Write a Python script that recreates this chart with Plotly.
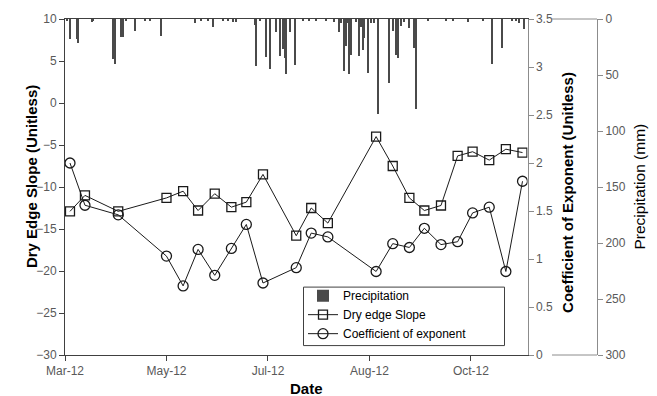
import plotly.graph_objects as go

# ---- data ----
obs_dates = ["2012-03-04", "2012-03-13", "2012-04-02", "2012-05-01", "2012-05-11", "2012-05-20",
             "2012-05-30", "2012-06-09", "2012-06-18", "2012-06-28", "2012-07-18", "2012-07-27",
             "2012-08-06", "2012-09-04", "2012-09-14", "2012-09-24", "2012-10-03", "2012-10-13",
             "2012-10-23", "2012-11-01", "2012-11-11", "2012-11-21", "2012-12-01"]
dry_edge_slope = [-12.9, -11.0, -12.9, -11.3, -10.5, -12.8, -10.8, -12.4, -11.8, -8.5, -15.8, -12.5,
                  -14.3, -4.0, -7.5, -11.3, -12.8, -12.2, -6.3, -5.8, -6.8, -5.5, -5.9]
coef_exponent = [2.0, 1.56, 1.46, 1.03, 0.72, 1.10, 0.83, 1.11, 1.36, 0.75, 0.91, 1.27,
                 1.23, 0.87, 1.16, 1.12, 1.32, 1.15, 1.18, 1.48, 1.54, 0.87, 1.81]

precip_dates = ["2012-03-02", "2012-03-04", "2012-03-08", "2012-03-09", "2012-03-17", "2012-03-18",
                "2012-03-30", "2012-03-31", "2012-04-04", "2012-04-05", "2012-04-07", "2012-04-12",
                "2012-04-18", "2012-04-21", "2012-04-28", "2012-05-18", "2012-05-22", "2012-05-26",
                "2012-05-29", "2012-06-04", "2012-06-07", "2012-06-10", "2012-06-12", "2012-06-23",
                "2012-06-24", "2012-06-26", "2012-06-30", "2012-07-02", "2012-07-06", "2012-07-08",
                "2012-07-10", "2012-07-11", "2012-07-12", "2012-07-14", "2012-07-17", "2012-07-22",
                "2012-07-26", "2012-07-30", "2012-08-05", "2012-08-10", "2012-08-13", "2012-08-14",
                "2012-08-16", "2012-08-17", "2012-08-18", "2012-08-19", "2012-08-20", "2012-08-23",
                "2012-08-25", "2012-08-26", "2012-08-27", "2012-08-28", "2012-08-30", "2012-09-01",
                "2012-09-03", "2012-09-05", "2012-09-12", "2012-09-14", "2012-09-16", "2012-09-17",
                "2012-09-19", "2012-09-21", "2012-09-24", "2012-09-27", "2012-09-28", "2012-10-05",
                "2012-10-16", "2012-10-20", "2012-10-29", "2012-11-07", "2012-11-13", "2012-11-19",
                "2012-11-25", "2012-11-27", "2012-11-29", "2012-12-02"]
precip_mm = [2, 18, 18, 21, 3, 2, 36, 40, 16, 16, 1, 11,
             1, 1, 15, 4, 1, 1, 7, 1, 1, 3, 3, 5,
             42, 1, 34, 45, 12, 33, 27, 35, 49, 12, 41, 1,
             1, 1, 2, 3, 12, 4, 46, 24, 4, 49, 32, 3,
             33, 7, 28, 17, 48, 4, 4, 85, 57, 11, 32, 35,
             6, 3, 8, 26, 80, 1, 1, 1, 3, 1, 40, 26,
             1, 1, 4, 9]

x_tick_vals = ["2012-03-01", "2012-05-01", "2012-07-01", "2012-08-31", "2012-10-31"]
x_tick_text = ["Mar-12", "May-12", "Jul-12", "Aug-12", "Oct-12"]

# ---- style ----
FONT = "Liberation Sans, Arial, sans-serif"
TICKCOL = "#595959"
GREY = "#8c8c8c"
L, R, T, B = 65, 60, 16, 41
W, H = 657, 396
PW, PH = W - L - R, H - T - B


def px_x(px):
    return (px - L) / PW


def px_y(py):
    return (H - B - py) / PH


fig = go.Figure()

fig.add_trace(go.Bar(
    x=precip_dates, y=precip_mm, yaxis="y3", name="Precipitation",
    marker=dict(color="#4a4a4a", line=dict(width=0)), width=86400000 * 0.7,
))
fig.add_trace(go.Scatter(
    x=obs_dates, y=dry_edge_slope, yaxis="y", name="Dry edge Slope", mode="lines+markers",
    line=dict(color="#1a1a1a", width=1),
    marker=dict(symbol="square-open", size=9, color="#1a1a1a", line=dict(width=1.3)),
))
fig.add_trace(go.Scatter(
    x=obs_dates, y=coef_exponent, yaxis="y2", name="Coefficient of exponent", mode="lines+markers",
    line=dict(color="#1a1a1a", width=1),
    marker=dict(symbol="circle-open", size=10, color="#1a1a1a", line=dict(width=1.3)),
))

fig.update_layout(
    width=W, height=H,
    margin=dict(l=L, r=R, t=T, b=B, pad=0),
    paper_bgcolor="white", plot_bgcolor="white",
    font=dict(family=FONT, size=12, color=TICKCOL),
    bargap=0,
    xaxis=dict(
        domain=[0, px_x(527.5)], type="date", range=["2012-03-01", "2012-12-04"],
        tickmode="array", tickvals=x_tick_vals, ticktext=x_tick_text,
        showgrid=False, zeroline=False, showline=True, linecolor="#404040", linewidth=1,
        mirror=True, ticks="outside", ticklen=5, tickcolor="#404040",
        tickfont=dict(size=12, color=TICKCOL),
    ),
    yaxis=dict(
        range=[-30, 10], dtick=5, tick0=-30, showgrid=False, zeroline=False,
        showline=True, linecolor="#404040", linewidth=1, ticks="outside", ticklen=5,
        tickcolor="#404040", tickfont=dict(size=12, color=TICKCOL),
    ),
    yaxis2=dict(
        range=[0, 3.5], dtick=0.5, tick0=0, overlaying="y", side="right", anchor="x",
        showgrid=False, zeroline=False, showline=True, linecolor=GREY, linewidth=1,
        ticks="outside", ticklen=5, tickcolor=GREY, tickfont=dict(size=12, color=TICKCOL),
    ),
    yaxis3=dict(
        range=[300, 0], dtick=50, tick0=0, overlaying="y", side="right", anchor="free",
        position=1.0, showgrid=False, zeroline=False, showline=True, linecolor=GREY,
        linewidth=1, ticks="outside", ticklen=5, tickcolor=GREY,
        tickfont=dict(size=12, color=TICKCOL),
    ),
    legend=dict(
        x=px_x(303), y=px_y(280.5), xanchor="left", yanchor="top",
        bgcolor="rgba(0,0,0,0)", borderwidth=0,
        font=dict(family=FONT, size=12, color="#000000"), tracegroupgap=0,
        traceorder="normal",
    ),
    showlegend=True,
    shapes=[
        dict(type="line", xref="paper", yref="paper", x0=px_x(552), x1=1.0, y0=1, y1=1,
             line=dict(color=GREY, width=1)),
        dict(type="line", xref="paper", yref="paper", x0=px_x(552), x1=1.0, y0=0, y1=0,
             line=dict(color=GREY, width=1)),
        # legend frame
        dict(type="rect", xref="paper", yref="paper", layer="above",
             x0=px_x(303.5), x1=px_x(504.5), y0=px_y(345.5), y1=px_y(286.5),
             fillcolor="white", line=dict(color="#404040", width=1)),
    ],
    annotations=[
        dict(text="<b>Dry Edge Slope (Unitless)</b>", xref="paper", yref="paper",
             x=px_x(31.5), y=px_y(175), textangle=-90, showarrow=False,
             font=dict(family=FONT, size=15, color="#000000"), xanchor="center", yanchor="middle"),
        dict(text="<b>Coefficient of Exponent (Unitless)</b>", xref="paper", yref="paper",
             x=px_x(568), y=px_y(191.5), textangle=-90, showarrow=False,
             font=dict(family=FONT, size=15, color="#000000"), xanchor="center", yanchor="middle"),
        dict(text="Precipitation (mm)", xref="paper", yref="paper",
             x=px_x(640), y=px_y(185), textangle=-90, showarrow=False,
             font=dict(family=FONT, size=15.5, color="#000000"), xanchor="center", yanchor="middle"),
        dict(text="<b>Date</b>", xref="paper", yref="paper",
             x=px_x(306.7), y=px_y(389), showarrow=False,
             font=dict(family=FONT, size=15, color="#000000"), xanchor="center", yanchor="middle"),
    ],
)

fig.write_html("out.html", config={"displayModeBar": False},
               post_script="document.body.style.margin='0';")
